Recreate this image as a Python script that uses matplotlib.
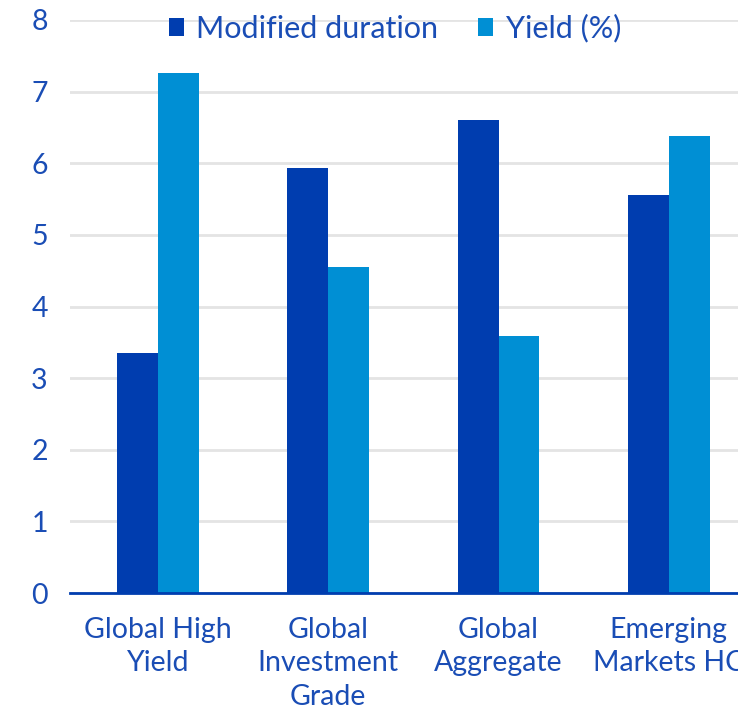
import matplotlib
matplotlib.use("Agg")
import matplotlib.pyplot as plt
import numpy as np

categories = ["Global High\nYield", "Global\nInvestment\nGrade", "Global\nAggregate", "Emerging\nMarkets HC"]
duration = [3.35, 5.93, 6.61, 5.56]
yield_pct = [7.26, 4.55, 3.59, 6.38]
series_names = ["Modified duration", "Yield (%)"]
y_ticks = [0, 1, 2, 3, 4, 5, 6, 7, 8]

DARK = "#003DAF"
LIGHT = "#008FD4"
TEXT = "#1A4DB5"
GRID = "#E4E4E4"

plt.rcParams["font.family"] = ["Lato", "DejaVu Sans"]

fig = plt.figure(figsize=(7.38, 7.10), dpi=100)
ax = fig.add_axes([70 / 738, 117 / 710, 684 / 738, 573 / 710])

x = np.arange(len(categories))
w = 0.24
ax.bar(x - w / 2, duration, width=w, color=DARK, label=series_names[0], zorder=3)
ax.bar(x + w / 2, yield_pct, width=w, color=LIGHT, label=series_names[1], zorder=3)

ax.set_xlim(-0.516, 3.5)
ax.set_ylim(0, 8)
ax.set_yticks(y_ticks)
ax.yaxis.grid(True, color=GRID, linewidth=2, zorder=0)
ax.set_axisbelow(True)

for s in ["top", "right", "left"]:
    ax.spines[s].set_visible(False)
ax.spines["bottom"].set_color(DARK)
ax.spines["bottom"].set_linewidth(2)
ax.spines["bottom"].set_zorder(4)

ax.set_xticks(x)
ax.set_xticklabels(categories, linespacing=1.36)
ax.tick_params(axis="both", length=0, labelcolor=TEXT)
ax.tick_params(axis="x", pad=17, labelsize=20.5)
ax.tick_params(axis="y", pad=16, labelsize=20.5)

leg = ax.legend(loc="center", bbox_to_anchor=(0.475, 0.985), ncol=2, frameon=False,
                fontsize=22, handlelength=0.5, handleheight=0.5, handletextpad=0.4,
                columnspacing=1.3, labelcolor=TEXT)

fig.savefig("out.png", dpi=100)
